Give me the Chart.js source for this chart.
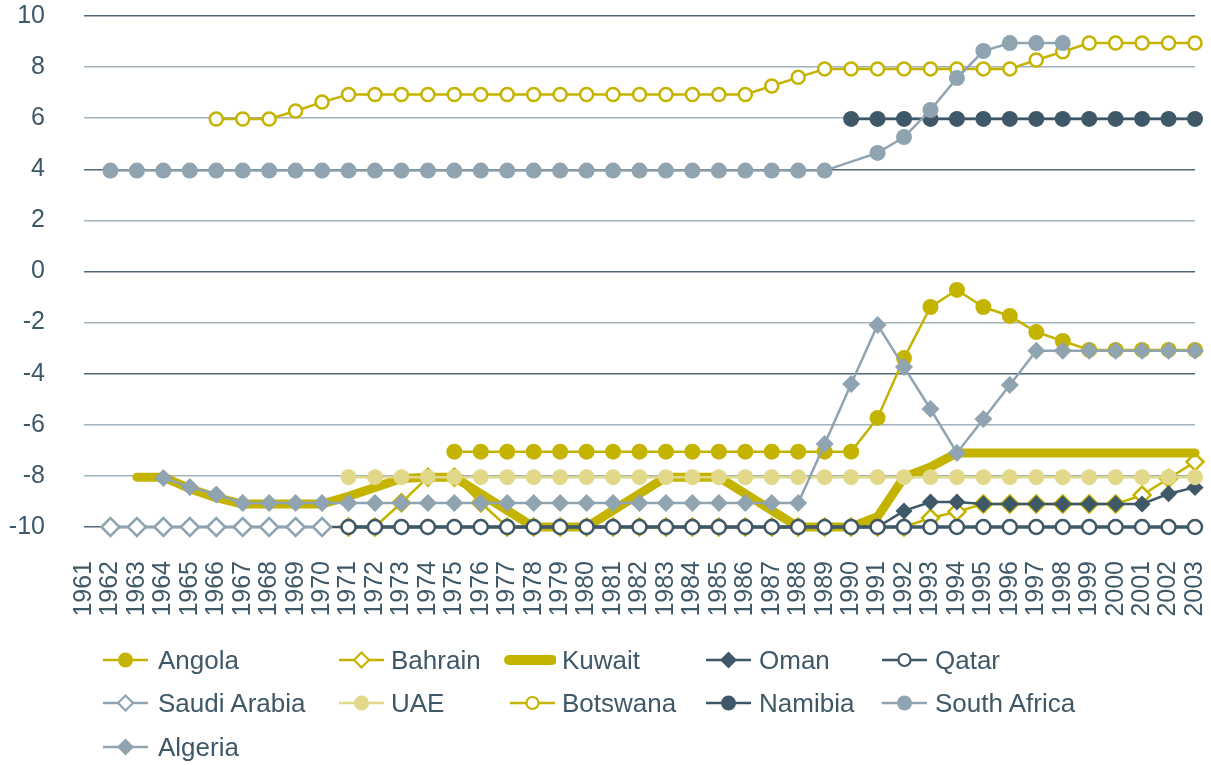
<!DOCTYPE html>
<html><head><meta charset="utf-8">
<script src="https://cdn.jsdelivr.net/npm/chart.js@4.4.0/dist/chart.umd.min.js"></script>
<style>
html,body{margin:0;padding:0;background:#fff;width:1211px;height:765px;overflow:hidden;font-family:"Liberation Sans",Arial,sans-serif;}
#wrap{position:absolute;left:0;top:0;width:1211px;height:640px;}
#legend{position:absolute;left:0;top:0;width:1211px;height:765px;pointer-events:none;}
.item{position:absolute;height:30px;display:flex;align-items:center;color:#3f5868;font-size:26px;white-space:nowrap;}
.sym{position:absolute;top:0;height:30px;}
</style></head><body>
<div id="wrap"><canvas id="c"></canvas></div>
<div id="legend"></div>
<script>
const years = ["1961","1962","1963","1964","1965","1966","1967","1968","1969","1970","1971","1972","1973","1974","1975","1976","1977","1978","1979","1980","1981","1982","1983","1984","1985","1986","1987","1988","1989","1990","1991","1992","1993","1994","1995","1996","1997","1998","1999","2000","2001","2002","2003"];
const yTicks = [10,8,6,4,2,0,-2,-4,-6,-8,-10];

const angola = [null,null,null,null,null,null,null,null,null,null,null,null,null,null,
  -7.05,-7.05,-7.05,-7.05,-7.05,-7.05,-7.05,-7.05,-7.05,-7.05,-7.05,-7.05,-7.05,-7.05,-7.05,-7.05,
  -5.73,-3.39,-1.39,-0.72,-1.39,-1.74,-2.37,-2.72,-3.07,-3.07,-3.07,-3.07,-3.07];
const bahrain = [null,null,null,null,null,null,null,null,null,null,
  -10,-10,-9.05,-8.05,-8.05,-9.05,
  -10,-10,-10,-10,-10,-10,-10,-10,-10,-10,-10,-10,-10,-10,-10,-10,
  -9.65,-9.4,-9.1,-9.1,-9.1,-9.1,-9.1,-9.1,-8.75,-8.1,-7.45];
const kuwait = [null,null,
  -8.05,-8.05,-8.5,-8.85,-9.1,-9.1,-9.1,-9.1,-8.8,-8.45,-8.1,-8.05,-8.05,-8.7,-9.35,-10,-10,-10,
  -9.35,-8.7,-8.05,-8.05,-8.05,-8.7,-9.35,-10,-10,-10,-9.6,-8.05,-7.65,-7.1,
  -7.1,-7.1,-7.1,-7.1,-7.1,-7.1,-7.1,-7.1,-7.1];
const oman = [null,
  -10,-10,-10,-10,-10,-10,-10,-10,-10,-10,-10,-10,-10,-10,-10,-10,-10,-10,-10,-10,-10,-10,-10,-10,-10,-10,-10,-10,-10,-10,
  -9.37,-9.02,-9.02,-9.1,-9.1,-9.1,-9.1,-9.1,-9.1,-9.1,-8.7,-8.45];
const qatar = [null,null,null,null,null,null,null,null,null,null,
  -10,-10,-10,-10,-10,-10,-10,-10,-10,-10,-10,-10,-10,-10,-10,-10,-10,-10,-10,-10,-10,-10,-10,-10,-10,-10,-10,-10,-10,-10,-10,-10,-10];
const saudiArabia = [null,-10,-10,-10,-10,-10,-10,-10,-10,-10,
  null,null,null,null,null,null,null,null,null,null,null,null,null,null,null,null,null,null,null,null,null,null,null,null,null,null,null,null,null,null,null,null,null];
const uae = [null,null,null,null,null,null,null,null,null,null,
  -8.05,-8.05,-8.05,-8.05,-8.05,-8.05,-8.05,-8.05,-8.05,-8.05,-8.05,-8.05,-8.05,-8.05,-8.05,-8.05,-8.05,-8.05,-8.05,-8.05,-8.05,-8.05,-8.05,-8.05,-8.05,-8.05,-8.05,-8.05,-8.05,-8.05,-8.05,-8.05,-8.05];
const botswana = [null,null,null,null,null,
  5.97,5.97,5.97,6.28,6.63,
  6.93,6.93,6.93,6.93,6.93,6.93,6.93,6.93,6.93,6.93,6.93,6.93,6.93,6.93,6.93,6.93,
  7.26,7.6,7.93,7.93,7.93,7.93,7.93,7.93,7.93,7.93,8.28,8.6,8.94,8.94,8.94,8.94,8.94];
const namibia = [null,null,null,null,null,null,null,null,null,null,null,null,null,null,null,null,null,null,null,null,null,null,null,null,null,null,null,null,null,
  5.97,5.97,5.97,5.97,5.97,5.97,5.97,5.97,5.97,5.97,5.97,5.97,5.97,5.97];
const southAfrica = [null,
  3.95,3.95,3.95,3.95,3.95,3.95,3.95,3.95,3.95,3.95,3.95,3.95,3.95,3.95,3.95,3.95,3.95,3.95,3.95,3.95,3.95,3.95,3.95,3.95,3.95,3.95,3.95,3.95,
  null,4.64,5.26,6.32,7.57,8.63,8.94,8.94,8.94,null,null,null,null,null];
const algeria = [null,null,null,
  -8.08,-8.43,-8.73,-9.06,-9.06,-9.06,-9.06,-9.06,-9.06,-9.06,-9.06,-9.06,-9.06,-9.06,-9.06,-9.06,-9.06,-9.06,-9.06,-9.06,-9.06,-9.06,-9.06,-9.06,-9.06,
  -6.75,-4.4,-2.09,-3.74,-5.38,-7.1,-5.77,-4.44,-3.1,-3.1,-3.1,-3.1,-3.1,-3.1,-3.1];

const YEL = '#c4b400', LYEL = '#e2d88a', DARK = '#3f5868', GRAY = '#8fa3b0';
const TXT = '#3f5868';

function series(label, data, color, style, opts) {
  return Object.assign({
    label, data,
    borderColor: color, backgroundColor: color,
    borderWidth: 2.5, tension: 0, clip: false,
    pointStyle: style, pointRadius: 7.5, pointHoverRadius: 7.5,
    pointBackgroundColor: color, pointBorderColor: color, pointBorderWidth: 0,
    spanGaps: false
  }, opts || {});
}
const datasets = [
  series('Angola', angola, YEL, 'circle', {pointRadius: 8}),
  series('Bahrain', bahrain, YEL, 'rectRot', {pointRadius: 8.5, pointBackgroundColor:'#fff', pointBorderWidth: 2.5}),
  series('Kuwait', kuwait, YEL, false, {borderWidth: 9, pointRadius: 0, pointHoverRadius: 0, borderCapStyle:'round', borderJoinStyle:'round'}),
  series('Oman', oman, DARK, 'rectRot', {pointRadius: 8.5}),
  series('Qatar', qatar, DARK, 'circle', {borderWidth: 3.5, pointRadius: 7, pointBackgroundColor:'#fff', pointBorderWidth: 2.5}),
  series('Saudi Arabia', saudiArabia, GRAY, 'rectRot', {pointRadius: 9, pointBackgroundColor:'#fff', pointBorderWidth: 2.5}),
  series('UAE', uae, LYEL, 'circle', {pointRadius: 8}),
  series('Botswana', botswana, YEL, 'circle', {pointRadius: 6.5, pointBackgroundColor:'#fff', pointBorderWidth: 2.5}),
  series('Namibia', namibia, DARK, 'circle', {pointRadius: 8}),
  series('South Africa', southAfrica, GRAY, 'circle', {pointRadius: 8, spanGaps: true}),
  series('Algeria', algeria, GRAY, 'rectRot', {pointRadius: 9})
];
datasets.forEach((d, i) => { d.order = datasets.length - i; });

const darkGrid = [10, 4, 0, -4, -10];

const chart = new Chart(document.getElementById('c'), {
  type: 'line',
  data: { labels: years, datasets },
  options: {
    responsive: true, maintainAspectRatio: false, animation: false,
    layout: { padding: { top: 16, right: 16, bottom: 0, left: 0 } },
    plugins: { legend: { display: false }, tooltip: { enabled: false } },
    scales: {
      x: {
        grid: { display: false, drawTicks: false },
        border: { display: false },
        ticks: { autoSkip: false, maxRotation: 90, minRotation: 90, padding: 34,
          color: TXT, font: { family: '"Liberation Sans", Arial, sans-serif', size: 25 } },
        afterFit: s => { s.height = 113; s.paddingLeft = 0; s.paddingRight = 0; s.paddingTop = 0; s.paddingBottom = 0; }
      },
      y: {
        min: -10, max: 10,
        afterBuildTicks: s => { s.ticks = yTicks.map(v => ({ value: v })); },
        grid: { drawTicks: false, lineWidth: 1.5,
          color: c => darkGrid.includes(c.tick.value) ? '#52677a' : '#a2b2bc' },
        border: { display: false },
        ticks: { padding: 39, color: TXT,
          font: { family: '"Liberation Sans", Arial, sans-serif', size: 25 } },
        afterFit: s => { s.width = 84; s.paddingTop = 0; s.paddingBottom = 0; s.paddingLeft = 0; s.paddingRight = 0; }
      }
    }
  }
});

// HTML legend built from the chart's datasets
const legendPos = [
  [103,158,660],[339,391,660],[504,562,660],[706,759,660],[882,935,660],
  [103,158,703],[339,391,703],[510,562,703],[706,759,703],[882,935,703],
  [103,158,747]
];
const leg = document.getElementById('legend');
chart.data.datasets.forEach((ds, i) => {
  const [sx, tx, cy] = legendPos[i];
  const item = document.createElement('div');
  item.className = 'item';
  item.style.left = sx + 'px';
  item.style.top = (cy - 15) + 'px';
  let w = tx - sx - 6;
  let svg = `<svg class="sym" width="${w}" height="30" style="left:0">`;
  if (ds.label === 'Kuwait') {
    svg += `<line x1="5" y1="15" x2="${w-4}" y2="15" stroke="${ds.borderColor}" stroke-width="10" stroke-linecap="round"/>`;
  } else {
    const lw = 45;
    svg += `<line x1="0" y1="15" x2="${lw}" y2="15" stroke="${ds.borderColor}" stroke-width="2.5"/>`;
    const cx = lw / 2;
    const open = ds.pointBackgroundColor === '#fff';
    if (ds.pointStyle === 'circle') {
      if (open) svg += `<circle cx="${cx}" cy="15" r="6" fill="#fff" stroke="${ds.borderColor}" stroke-width="2.2"/>`;
      else svg += `<circle cx="${cx}" cy="15" r="7.5" fill="${ds.pointBackgroundColor}"/>`;
    } else if (ds.pointStyle === 'rectRot') {
      const r = open ? 7.5 : 8.5;
      const pts = `${cx},${15-r} ${cx+r},15 ${cx},${15+r} ${cx-r},15`;
      if (open) svg += `<polygon points="${pts}" fill="#fff" stroke="${ds.borderColor}" stroke-width="2.2"/>`;
      else svg += `<polygon points="${pts}" fill="${ds.pointBackgroundColor}"/>`;
    }
  }
  svg += `</svg>`;
  item.innerHTML = svg + `<span style="position:absolute;left:${tx - sx}px;top:0;line-height:30px;">${ds.label}</span>`;
  leg.appendChild(item);
});
</script>
</body></html>
